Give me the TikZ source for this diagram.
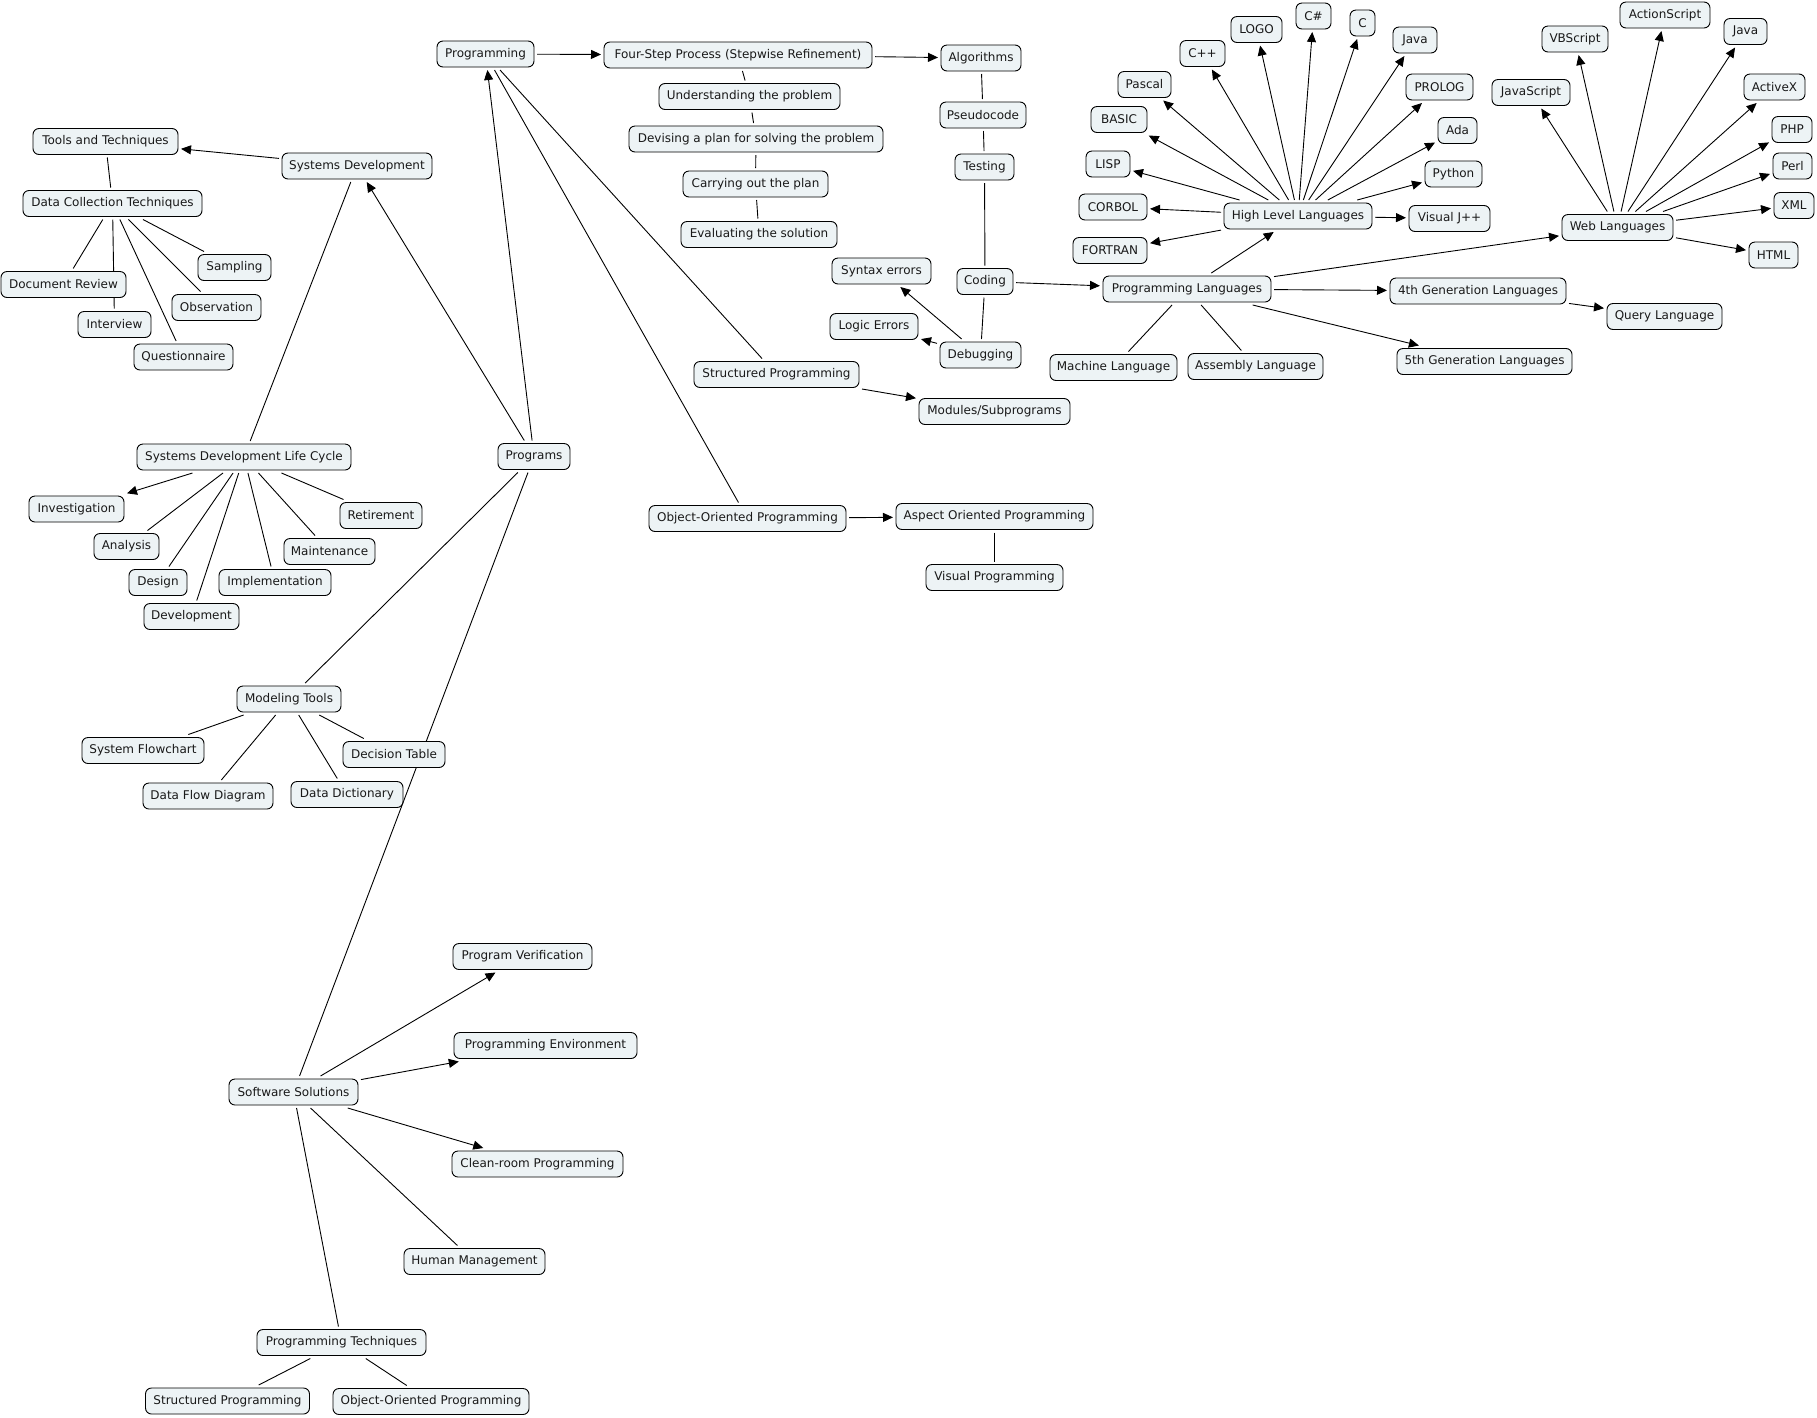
\documentclass[tikz,border=0pt]{standalone}
\usepackage{fontspec}
\setmainfont{DejaVu Sans}
\usetikzlibrary{arrows.meta,backgrounds}
\definecolor{cfill}{RGB}{237,243,245}
\begin{document}
\begin{tikzpicture}[x=1pt,y=-1pt,
  c/.style={draw=black, line width=0.9pt, fill=cfill, rounded corners=6pt,
    minimum height=26pt, inner xsep=4pt, inner ysep=2pt, outer sep=3pt,
    font=\fontsize{12pt}{13pt}\selectfont, text=black!90},
  ln/.style={line width=0.9pt},
  ar/.style={line width=0.9pt, -{Triangle[length=10pt,width=9pt]}}
]
\useasboundingbox (0,0) rectangle (1817,1417);

% --- Programming branch ---
\node[c,minimum width=97pt] (prog) at (485.5,54) {Programming};
\node[c,minimum width=268pt] (fourstep) at (738,55) {Four-Step Process (Stepwise Refinement)};
\node[c,minimum width=181pt] (understand) at (749.5,96.5) {Understanding the problem};
\node[c,minimum width=254pt] (devise) at (756,139) {Devising a plan for solving the problem};
\node[c,minimum width=145pt] (carry) at (755.5,184) {Carrying out the plan};
\node[c,minimum width=156pt] (evaluate) at (759,234.5) {Evaluating the solution};
\node[c,minimum width=80pt] (algo) at (981,58) {Algorithms};
\node[c,minimum width=86pt] (pseudo) at (983,115) {Pseudocode};
\node[c,minimum width=59pt] (testing) at (984.5,167) {Testing};
\node[c,minimum width=56pt] (coding) at (985,281.5) {Coding};
\node[c,minimum width=81pt] (debug) at (980.5,355) {Debugging};
\node[c,minimum width=99pt] (syntax) at (881.5,271) {Syntax errors};
\node[c,minimum width=88pt] (logic) at (874,326.5) {Logic Errors};
\node[c,minimum width=168pt] (proglang) at (1187,289) {Programming Languages};
\node[c,minimum width=127pt] (machine) at (1113.5,367.5) {Machine Language};
\node[c,minimum width=135pt] (assembly) at (1255.5,366.5) {Assembly Language};
\node[c,minimum width=148pt] (hll) at (1298,216) {High Level Languages};
\node[c,minimum width=68pt] (corbol) at (1113,207) {CORBOL};
\node[c,minimum width=74pt] (fortran) at (1110,250.5) {FORTRAN};
\node[c,minimum width=44pt] (lisp) at (1108,164) {LISP};
\node[c,minimum width=56pt] (basic) at (1119,119.5) {BASIC};
\node[c,minimum width=53pt] (pascal) at (1144.5,84.5) {Pascal};
\node[c,minimum width=45pt] (cpp) at (1202.5,53.5) {C++};
\node[c,minimum width=51pt] (logo) at (1256.5,29.5) {LOGO};
\node[c,minimum width=35pt] (csharp) at (1313.5,16) {C\#};
\node[c,minimum width=25pt] (clang) at (1362.5,23) {C};
\node[c,minimum width=44pt] (javaa) at (1415,40) {Java};
\node[c,minimum width=67pt] (prolog) at (1439.5,87) {PROLOG};
\node[c,minimum width=39pt] (ada) at (1457.5,130.5) {Ada};
\node[c,minimum width=57pt] (python) at (1453.5,174) {Python};
\node[c,minimum width=81pt] (vjpp) at (1449.5,218.5) {Visual J++};
\node[c,minimum width=111pt] (web) at (1617.5,227.5) {Web Languages};
\node[c,minimum width=78pt] (js) at (1531,92.5) {JavaScript};
\node[c,minimum width=66pt] (vbs) at (1575,39) {VBScript};
\node[c,minimum width=90pt] (actions) at (1665,15) {ActionScript};
\node[c,minimum width=43pt] (javab) at (1745.5,31.5) {Java};
\node[c,minimum width=61pt] (activex) at (1774.5,87) {ActiveX};
\node[c,minimum width=40pt] (php) at (1792,129.5) {PHP};
\node[c,minimum width=39pt] (perl) at (1792.5,166) {Perl};
\node[c,minimum width=40pt] (xml) at (1794,205.5) {XML};
\node[c,minimum width=49pt] (html) at (1773.5,255) {HTML};
\node[c,minimum width=176pt] (fourth) at (1478,291) {4th Generation Languages};
\node[c,minimum width=115pt] (query) at (1664.5,316.5) {Query Language};
\node[c,minimum width=175pt] (fifth) at (1484.5,361.5) {5th Generation Languages};
\node[c,minimum width=165pt] (sp) at (776.5,374.5) {Structured Programming};
\node[c,minimum width=151pt] (modules) at (994.5,411.5) {Modules/Subprograms};
\node[c,minimum width=197pt] (oop) at (747.5,518.5) {Object-Oriented Programming};
\node[c,minimum width=197pt] (aop) at (994.5,516.5) {Aspect Oriented Programming};
\node[c,minimum width=137pt] (vp) at (994.5,577.5) {Visual Programming};

% --- Systems development branch ---
\node[c,minimum width=145pt] (tools) at (105.5,141.5) {Tools and Techniques};
\node[c,minimum width=150pt] (sysdev) at (357,166) {Systems Development};
\node[c,minimum width=179pt] (dct) at (112.5,203.5) {Data Collection Techniques};
\node[c,minimum width=125pt] (docrev) at (63.5,284.5) {Document Review};
\node[c,minimum width=73pt] (interview) at (114.5,324.5) {Interview};
\node[c,minimum width=99pt] (quest) at (183.5,357) {Questionnaire};
\node[c,minimum width=73pt] (sampling) at (234.5,267.5) {Sampling};
\node[c,minimum width=89pt] (observation) at (216.5,307.5) {Observation};
\node[c,minimum width=214pt] (sdlc) at (244,457) {Systems Development Life Cycle};
\node[c,minimum width=72pt] (programs) at (534,456.5) {Programs};
\node[c,minimum width=95pt] (invest) at (76.5,509) {Investigation};
\node[c,minimum width=65pt] (analysis) at (126.5,546.5) {Analysis};
\node[c,minimum width=58pt] (design) at (158,582.5) {Design};
\node[c,minimum width=95pt] (development) at (191.5,616.5) {Development};
\node[c,minimum width=112pt] (implementation) at (275,582.5) {Implementation};
\node[c,minimum width=91pt] (maintenance) at (329.5,551.5) {Maintenance};
\node[c,minimum width=82pt] (retirement) at (381,515.5) {Retirement};
\node[c,minimum width=104pt] (modeling) at (289,699) {Modeling Tools};
\node[c,minimum width=122pt] (flowchart) at (143,750.5) {System Flowchart};
\node[c,minimum width=102pt] (decision) at (394,754.5) {Decision Table};
\node[c,minimum width=130pt] (dfd) at (208,796) {Data Flow Diagram};
\node[c,minimum width=112pt] (dd) at (347,794.5) {Data Dictionary};

% --- Software solutions branch ---
\node[c,minimum width=139pt] (verification) at (522.5,956.5) {Program Verification};
\node[c,minimum width=183pt] (environment) at (545.5,1045.5) {Programming Environment};
\node[c,minimum width=129pt] (swsol) at (293.5,1092) {Software Solutions};
\node[c,minimum width=171pt] (cleanroom) at (537.5,1164) {Clean-room Programming};
\node[c,minimum width=141pt] (human) at (474.5,1261.5) {Human Management};
\node[c,minimum width=169pt] (techniques) at (341.5,1342.5) {Programming Techniques};
\node[c,minimum width=164pt] (sptwo) at (227.5,1401) {Structured Programming};
\node[c,minimum width=196pt] (ooptwo) at (431,1401.5) {Object-Oriented Programming};

\begin{scope}[on background layer]
\fill[white] (0,0) rectangle (1817,1417);
% arrows
\draw[ar] (prog) -- (fourstep);
\draw[ar] (fourstep) -- (algo);
\draw[ar] (debug) -- (syntax);
\draw[ar] (debug) -- (logic);
\draw[ar] (coding) -- (proglang);
\draw[ar] (proglang) -- (hll);
\draw[ar] (proglang) -- (web);
\draw[ar] (proglang) -- (fourth);
\draw[ar] (proglang) -- (fifth);
\foreach \t in {corbol,fortran,lisp,basic,pascal,cpp,logo,csharp,clang,javaa,prolog,ada,python,vjpp}
  \draw[ar] (hll) -- (\t);
\foreach \t in {js,vbs,actions,javab,activex,php,perl,xml,html}
  \draw[ar] (web) -- (\t);
\draw[ar] (fourth) -- (query);
\draw[ar] (sp) -- (modules);
\draw[ar] (oop) -- (aop);
\draw[ar] (programs) -- (prog);
\draw[ar] (programs) -- (sysdev);
\draw[ar] (sysdev) -- (tools);
\draw[ar] (sdlc) -- (invest);
\draw[ar] (swsol) -- (verification);
\draw[ar] (swsol) -- (environment);
\draw[ar] (swsol) -- (cleanroom);
% plain lines
\draw[ln] (fourstep) -- (understand);
\draw[ln] (understand) -- (devise);
\draw[ln] (devise) -- (carry);
\draw[ln] (carry) -- (evaluate);
\draw[ln] (algo) -- (pseudo);
\draw[ln] (pseudo) -- (testing);
\draw[ln] (testing) -- (coding);
\draw[ln] (coding) -- (debug);
\draw[ln] (proglang) -- (machine);
\draw[ln] (proglang) -- (assembly);
\draw[ln] (prog) -- (sp);
\draw[ln] (prog) -- (oop);
\draw[ln] (aop) -- (vp);
\draw[ln] (sysdev) -- (sdlc);
\draw[ln] (tools) -- (dct);
\foreach \t in {docrev,interview,quest,sampling,observation}
  \draw[ln] (dct) -- (\t);
\foreach \t in {analysis,design,development,implementation,maintenance,retirement}
  \draw[ln] (sdlc) -- (\t);
\draw[ln] (programs) -- (modeling);
\foreach \t in {flowchart,dfd,dd,decision}
  \draw[ln] (modeling) -- (\t);
\draw[ln] (programs) -- (swsol);
\draw[ln] (swsol) -- (human);
\draw[ln] (swsol) -- (techniques);
\draw[ln] (techniques) -- (sptwo);
\draw[ln] (techniques) -- (ooptwo);
\end{scope}
\end{tikzpicture}
\end{document}
